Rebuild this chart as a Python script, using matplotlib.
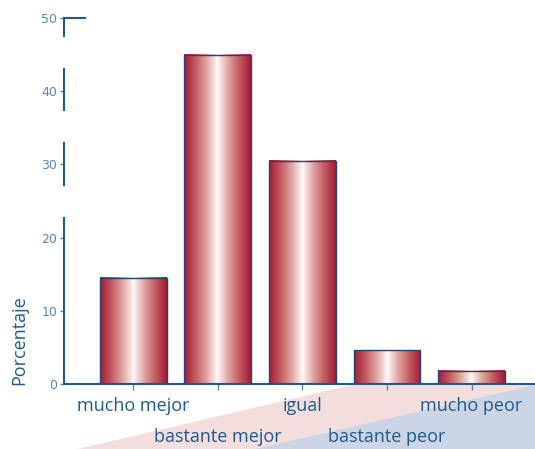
import numpy as np
import matplotlib.pyplot as plt
from matplotlib.colors import LinearSegmentedColormap

# Datos
categorias = ['mucho mejor', 'bastante mejor', 'igual', 'bastante peor', 'mucho peor']
valores = [14.5, 45, 30.5, 4.6, 1.8]
ticks_y = [0, 10, 20, 30, 40, 50]

azul = '#1f5a8f'
azul_claro = '#5a86b0'

fig = plt.figure(figsize=(5.35, 4.49), dpi=100)

# Fondo: franjas diagonales rosa y azul (en coordenadas de figura)
fondo = fig.add_axes([0, 0, 1, 1], zorder=0)
fondo.set_xlim(0, 535)
fondo.set_ylim(449, 0)
fondo.axis('off')
fondo.fill([78, 535, 535], [449, 342, 449], color='#f3dedd', lw=0)
fondo.fill([255, 535, 535], [449, 385, 449], color='#cbd5e6', lw=0)

ax = fig.add_axes([64 / 535, 65 / 449, 1 - 64 / 535, 366 / 449], zorder=1)
ax.patch.set_visible(False)

x = np.arange(len(categorias))
ancho = 0.79
ax.set_xlim(-0.82, 4.75)
ax.set_ylim(0, 50)

# Fondo blanco por encima del eje x
ax.fill_between([-0.82, 4.75], 0, 50, color='white', zorder=0)

# Degradado de las barras: rojo oscuro -> blanco -> rojo oscuro
cmap = LinearSegmentedColormap.from_list('barra', [
    (0.0, '#a31a35'), (0.18, '#c55e64'), (0.35, '#e3aaa7'), (0.47, '#f8e8e6'),
    (0.5, '#ffffff'), (0.53, '#f8e8e6'), (0.65, '#e3aaa7'), (0.82, '#c55e64'),
    (1.0, '#a31a35')])
grad = np.linspace(0, 1, 256).reshape(1, -1)

for xi, v in zip(x, valores):
    ax.imshow(grad, cmap=cmap, aspect='auto', zorder=2,
              extent=[xi - ancho / 2, xi + ancho / 2, 0, v])
    ax.bar(xi, v, width=ancho, facecolor='none', edgecolor='#27436e', lw=1.0, zorder=3)

ax.set_xlim(-0.82, 4.75)
ax.set_ylim(0, 50)

# Eje y con cortes entre etiquetas
for spine in ['left', 'top', 'right']:
    ax.spines[spine].set_visible(False)
ax.spines['bottom'].set_color(azul)
ax.spines['bottom'].set_linewidth(1.5)
tramos = [(0, 22.7), (27.2, 32.9), (37.4, 43), (47.5, 50)]
for a, b in tramos:
    ax.plot([-0.82, -0.82], [a, b], color=azul, lw=1.5, clip_on=False, zorder=4)
ax.plot([-0.82, -0.57], [50, 50], color=azul, lw=1.5, clip_on=False, zorder=4)

ax.set_yticks(ticks_y)
ax.tick_params(axis='y', colors=azul_claro, labelsize=9, length=3, width=1, pad=2)
ax.set_xticks(x)
ax.set_xticklabels([])
ax.tick_params(axis='x', colors=azul_claro, length=4, width=1.0, direction='out', pad=2)

# Etiquetas alternadas
for i, nombre in enumerate(categorias):
    y_txt = -3.0 if i % 2 == 0 else -7.3
    ax.text(i, y_txt, nombre, ha='center', va='center', fontsize=13,
            color=azul, family='Open Sans')

ax.set_ylabel('Porcentaje', fontsize=13, color=azul, family='Open Sans')
ax.yaxis.set_label_coords(-0.075, 0.12)

plt.savefig('out.png', dpi=100)
